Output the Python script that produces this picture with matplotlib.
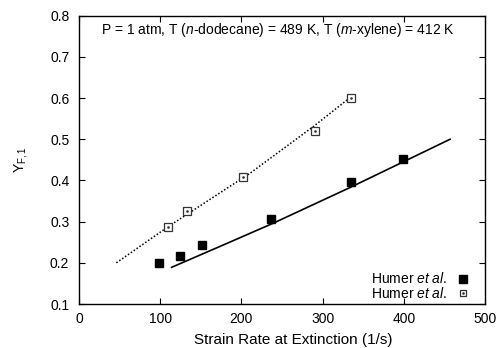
import matplotlib
import matplotlib.pyplot as plt

matplotlib.use("agg")
plt.rcParams["font.family"] = ["Liberation Sans", "DejaVu Sans"]
plt.rcParams["font.size"] = 10
plt.rcParams["mathtext.fontset"] = "custom"
plt.rcParams["mathtext.rm"] = "Liberation Sans"
plt.rcParams["mathtext.it"] = "Liberation Sans:italic"

# Humer et al. measurements (n-dodecane, filled squares)
dodecane_x = [98, 124, 151, 236, 335, 399]
dodecane_y = [0.199, 0.217, 0.243, 0.306, 0.396, 0.451]
# Humer et al. measurements (m-xylene, open squares)
xylene_x = [110, 133, 202, 291, 335]
xylene_y = [0.287, 0.327, 0.408, 0.520, 0.601]

# model curves
dodecane_line_x = [114, 175, 239, 334, 457]
dodecane_line_y = [0.189, 0.241, 0.296, 0.383, 0.500]
xylene_line_x = [46, 110, 211, 288, 335]
xylene_line_y = [0.200, 0.288, 0.418, 0.530, 0.603]

fig = plt.figure(figsize=(5.0, 3.48), dpi=100)
ax = fig.add_axes([79 / 500, 1 - 304 / 348, (485 - 79) / 500, (304 - 15.7) / 348])

ax.plot(dodecane_line_x, dodecane_line_y, color="black", lw=1.2)
ax.plot(xylene_line_x, xylene_line_y, color="black", lw=1.1, linestyle=(0, (1, 1.3)))

ax.plot(dodecane_x, dodecane_y, "s", color="black", markersize=6.2, linestyle="none")
ax.plot(xylene_x, xylene_y, "s", markerfacecolor="white", markeredgecolor="#333333",
        markeredgewidth=0.9, markersize=6.0, linestyle="none")
ax.plot(xylene_x, xylene_y, "s", color="#333333", markersize=0.8, linestyle="none")

ax.set_xlim(0, 500)
ax.set_ylim(0.1, 0.8)
ax.set_xticks([0, 100, 200, 300, 400, 500])
ax.set_yticks([0.1, 0.2, 0.3, 0.4, 0.5, 0.6, 0.7, 0.8])
ax.tick_params(direction="in", top=True, right=True, length=4, width=0.8, pad=7)
ax.tick_params(axis="x", pad=6)
for s in ax.spines.values():
    s.set_linewidth(1.0)

ax.set_xlabel("Strain Rate at Extinction (1/s)", fontsize=11, labelpad=5)
ax.xaxis.set_label_coords(0.527, -0.1)
ax.set_ylabel(r"Y$_{\mathregular{F,1}}$", labelpad=14)

ax.text(0.49, 0.95, r"P = 1 atm, T ($\it{n}$-dodecane) = 489 K, T ($\it{m}$-xylene) = 412 K",
        transform=ax.transAxes, ha="center", va="center")

# legend drawn by hand, text right aligned with marker on the right
ax.text(0.907, 0.087, r"Humer $\it{et\ al.}$", transform=ax.transAxes, ha="right", va="center")
ax.text(0.907, 0.037, r"Humer $\it{et\ al.}$", transform=ax.transAxes, ha="right", va="center")
ax.plot([0.945], [0.087], "s", color="black", markersize=6.2, transform=ax.transAxes)
ax.plot([0.945], [0.037], "s", markerfacecolor="white", markeredgecolor="#333333",
        markeredgewidth=0.9, markersize=5.0, transform=ax.transAxes)
ax.plot([0.945], [0.037], "s", color="#333333", markersize=0.8, transform=ax.transAxes)

plt.savefig("out.png", dpi=100)
plt.close()
